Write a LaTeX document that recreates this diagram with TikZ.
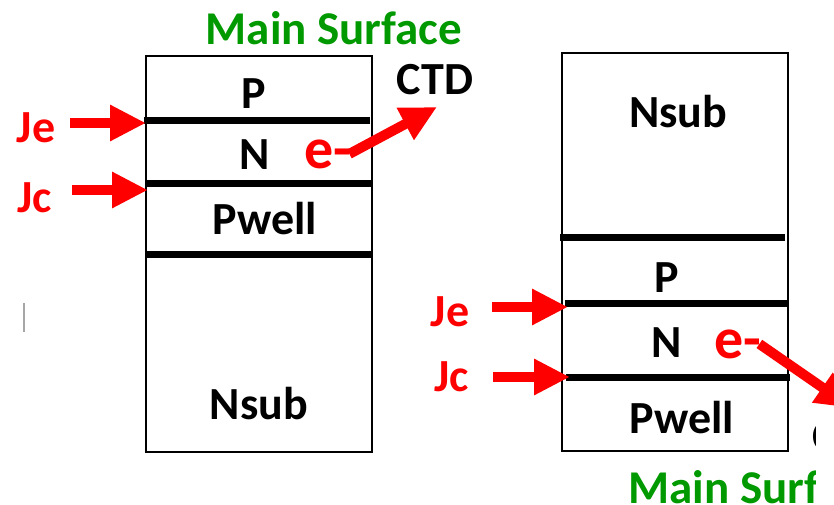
\documentclass[tikz,border=0pt]{standalone}
\usepackage{fontspec}
\setmainfont{Carlito}
\usetikzlibrary{arrows.meta}
\definecolor{surfgreen}{RGB}{0,153,0}
\definecolor{jred}{RGB}{255,0,0}
\begin{document}
\begin{tikzpicture}[x=1pt,y=-1pt,>={Triangle[length=36pt,width=34pt]},
  layer/.style={font=\fontsize{46}{50}\selectfont\bfseries},
  cur/.style={font=\fontsize{46}{50}\selectfont\bfseries,text=jred},
  elec/.style={font=\fontsize{58}{60}\selectfont\bfseries,text=jred,inner sep=0pt},
  surf/.style={font=\fontsize{47}{50}\selectfont\bfseries,text=surfgreen},
  junc/.style={line width=7pt},
  jarrow/.style={->,draw=jred,line width=10pt}]
\useasboundingbox (0,0) rectangle (834,505);
\clip (0,0) rectangle (834,505);
\def\bw{226}   % box width
% left device: surface on top
\draw[line width=2.5pt] (146,56) rectangle ++(\bw,396);
\draw[junc] (144,121) -- (370,121);
\draw[junc] (146,183) -- (372,183);
\draw[junc] (146,254) -- (372,254);
\node[surf] (surfL) at (334,28) {Main Surface};
\node[layer] (pL) at (254,94) {P};
\node[layer] (nL) at (255,155) {N};
\node[layer] (pwellL) at (265,219) {Pwell};
\node[layer] (nsubL) at (259,404) {Nsub};
\node[layer] (ctdL) at (435,80) {CTD};
\node[cur] (jeL) at (36,128) {Je};
\node[cur] (jcL) at (35,198) {Jc};
\coordinate (jeLtail) at (70,123);  \coordinate (jeLtip) at (146,123);
\coordinate (jcLtail) at (72,190);  \coordinate (jcLtip) at (148,190);
\draw[jarrow] (jeLtail) -- (jeLtip);
\draw[jarrow] (jcLtail) -- (jcLtip);
\node[elec,anchor=base west] (eL) at (304,168) {e-};
\coordinate (ctdLtip) at (437,107);
\draw[jarrow] ([xshift=-2pt]eL.east) -- (ctdLtip);
% right device: surface at the bottom
\draw[line width=2.5pt] (562,53) rectangle ++(\bw,398);
\draw[junc] (560,237) -- (785,237);
\draw[junc] (565,303) -- (789,303);
\draw[junc] (566,377) -- (790,377);
\node[layer] (nsubR) at (678,112) {Nsub};
\node[layer] (pR) at (667,278) {P};
\node[layer] (nR) at (667,343) {N};
\node[layer] (pwellR) at (682,418) {Pwell};
% texts cut at the right edge of the slide
\begin{scope}
\clip (0,0) rectangle (815,505);
\node[surf,anchor=west] (surfR) at (625,487) {Main Surface};
\node[layer,anchor=west] (ctdR) at (809,437) {CTD};
\end{scope}
\node[cur] (jeR) at (450,312) {Je};
\node[cur] (jcR) at (452,377) {Jc};
\coordinate (jeRtail) at (492,307); \coordinate (jeRtip) at (568,307);
\coordinate (jcRtail) at (493,377); \coordinate (jcRtip) at (570,377);
\draw[jarrow] (jeRtail) -- (jeRtip);
\draw[jarrow] (jcRtail) -- (jcRtip);
\node[elec,anchor=base west] (eR) at (714,358) {e-};
\coordinate (ctdRtip) at (852,408);
\draw[jarrow] ([xshift=-2pt]eR.east) -- (ctdRtip);
% stray mark at the left edge
\draw[gray!70,line width=2pt] (24,303) -- (24,332);
\end{tikzpicture}
\end{document}
